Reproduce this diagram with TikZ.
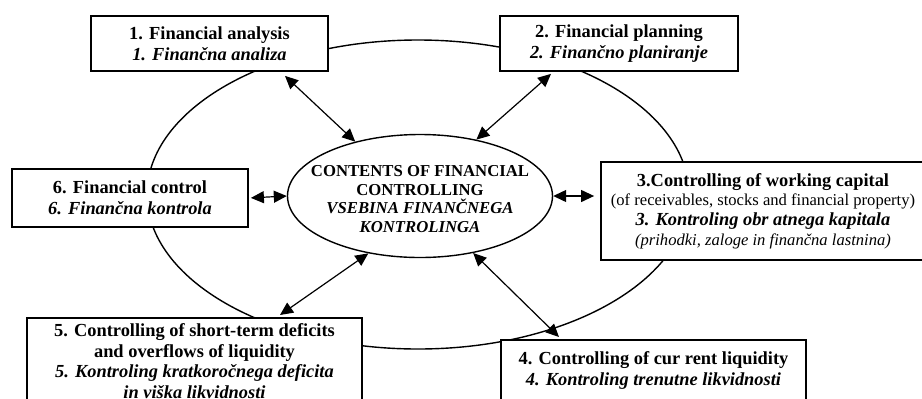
\documentclass[tikz,border=0pt]{standalone}
\usepackage{fontspec}
\setmainfont{Liberation Serif}
\usetikzlibrary{shapes.geometric,arrows.meta}

\begin{document}
\begin{tikzpicture}[x=0.5pt,y=-0.5pt,
        box/.style={draw, line width=0.9pt, fill=white, align=center, inner sep=0pt,
            font=\fontsize{9.2}{10.6}\selectfont\bfseries},
        dbl/.style={{Triangle[length=6.5pt,width=6pt]}-{Triangle[length=6.5pt,width=6pt]}, line width=0.6pt}]
        \useasboundingbox (0,0) rectangle (922,398);
        \clip (0,0) rectangle (922,398);

        \draw[line width=0.7pt] (418,194.5) ellipse [x radius=135.5pt, y radius=77.25pt];

        \node[box, minimum width=118.5pt, minimum height=27.5pt] (fa) at (209.5,43.5)
            {1. Financial analysis\\ \textit{1. Finančna analiza}};
        \node[box, minimum width=119pt, minimum height=27.5pt] (fp) at (619,43.5)
            {2. Financial planning\\ \textit{2. Finančno planiranje}};
        \node[box, minimum width=162pt, minimum height=49pt, font=\fontsize{9.2}{9.9}\selectfont\bfseries] (wc) at (763,211)
            {3.Controlling of working capital\\
             {\mdseries\fontsize{8.3}{9.9}\selectfont (of receivables, stocks and financial property)}\\
             \textit{3. Kontroling obr atnega kapitala}\\
             {\mdseries\itshape\fontsize{8.3}{9.9}\selectfont (prihodki, zaloge in finančna lastnina)}};
        \node[box, anchor=north, minimum width=152.5pt, inner ysep=5.7pt] (cl) at (653.5,339)
            {4. Controlling of cur rent liquidity\\ \textit{4. Kontroling trenutne likvidnosti}};
        \node[box, anchor=north, minimum width=167.5pt, inner ysep=2.8pt, font=\fontsize{9.2}{10.35}\selectfont\bfseries] (sd) at (194.5,317)
            {5. Controlling of short-term deficits\\ and overflows of liquidity\\
             \textit{5. Kontroling kratkoročnega deficita}\\ \textit{in viška likvidnosti}};
        \node[box, minimum width=118pt, minimum height=29pt] (fc) at (130,198)
            {6. Financial control\\ \textit{6. Finančna kontrola}};

        \node[ellipse, draw, line width=0.7pt, minimum width=132.5pt, minimum height=61.5pt, inner sep=0pt] (cc) at (420,196) {};
        \node[align=center, font=\fontsize{8.35}{9.25}\selectfont\bfseries] (cct) at (420,199)
            {CONTENTS OF FINANCIAL\\ CONTROLLING\\ \textit{VSEBINA FINANČNEGA}\\ \textit{KONTROLINGA}};

        \draw[dbl] ([xshift=37.75pt,yshift=-2pt]fa.south) -- (cc.140);
        \draw[dbl] ([xshift=-34pt,yshift=-1pt]fp.south) -- (cc.45.5);
        \draw[dbl, shorten <=1pt] (fc.east) -- (cc.west);
        \draw[dbl, shorten >=3pt] (cc.east) -- (cc.east -| wc.west);
        \draw[dbl] (cc.228) -- ([xshift=42.75pt,yshift=1pt]sd.north);
        \draw[dbl] (cc.313.5) -- ([xshift=-47.25pt,yshift=1pt]cl.north);
    \end{tikzpicture}
\end{document}
